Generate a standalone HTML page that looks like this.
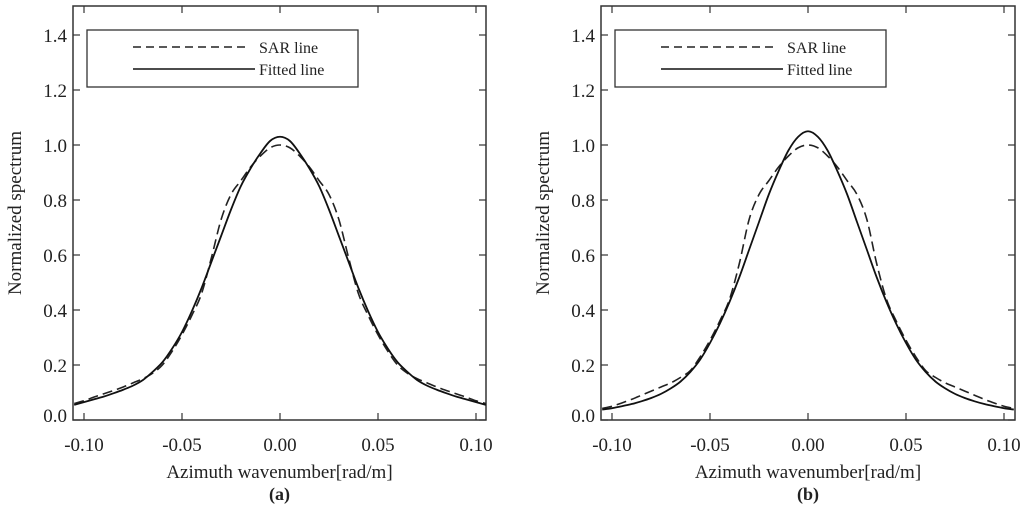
<!DOCTYPE html>
<html><head><meta charset="utf-8"><style>
body{margin:0;background:#fff;}
svg{display:block;font-family:"Liberation Serif",serif;}
</style></head><body>
<svg id="s" width="1024" height="516" viewBox="0 0 1024 516"></svg>
<script>
const xVals=[-0.105,-0.1,-0.095,-0.09,-0.085,-0.08,-0.075,-0.07,-0.065,-0.06,-0.055,-0.05,-0.045,-0.04,-0.035,-0.03,-0.025,-0.02,-0.015,-0.01,-0.005,0,0.005,0.01,0.015,0.02,0.025,0.03,0.035,0.04,0.045,0.05,0.055,0.06,0.065,0.07,0.075,0.08,0.085,0.09,0.095,0.1,0.105];
const fitA=[0.055,0.065,0.075,0.085,0.097,0.11,0.125,0.145,0.175,0.21,0.26,0.32,0.395,0.48,0.575,0.67,0.765,0.85,0.915,0.97,1.015,1.03,1.015,0.97,0.915,0.85,0.765,0.67,0.575,0.48,0.395,0.32,0.26,0.21,0.175,0.145,0.125,0.11,0.097,0.085,0.075,0.065,0.055];
const sarA=[0.06,0.07,0.083,0.095,0.107,0.12,0.135,0.15,0.17,0.2,0.25,0.31,0.38,0.46,0.59,0.73,0.82,0.87,0.92,0.96,0.99,1.0,0.99,0.96,0.92,0.87,0.82,0.73,0.59,0.46,0.38,0.31,0.25,0.2,0.17,0.15,0.135,0.12,0.107,0.095,0.083,0.07,0.06];
const fitB=[0.038,0.043,0.05,0.058,0.068,0.08,0.095,0.115,0.14,0.175,0.22,0.28,0.35,0.43,0.52,0.62,0.72,0.82,0.905,0.98,1.03,1.05,1.03,0.98,0.905,0.82,0.72,0.62,0.52,0.43,0.35,0.28,0.22,0.175,0.14,0.115,0.095,0.08,0.068,0.058,0.05,0.043,0.038];
const sarB=[0.042,0.05,0.062,0.075,0.09,0.105,0.12,0.135,0.155,0.18,0.23,0.29,0.36,0.44,0.57,0.73,0.82,0.87,0.92,0.96,0.99,1.0,0.99,0.96,0.92,0.87,0.82,0.73,0.57,0.44,0.36,0.29,0.23,0.18,0.155,0.135,0.12,0.105,0.09,0.075,0.062,0.05,0.042];
const xTicks=[-0.1,-0.05,0,0.05,0.1];
const xTickLabels=["-0.10","-0.05","0.00","0.05","0.10"];
const yTicks=[0,0.2,0.4,0.6,0.8,1.0,1.2,1.4];
const yTickLabels=["0.0","0.2","0.4","0.6","0.8","1.0","1.2","1.4"];
const NS="http://www.w3.org/2000/svg";
const svg=document.getElementById('s');
function mk(tag,attrs,parent,text){const e=document.createElementNS(NS,tag);for(const k in attrs)e.setAttribute(k,attrs[k]);if(text!==undefined)e.textContent=text;(parent||svg).appendChild(e);return e;}
function panel(id,left,right,x0,label,sar,fit){
  const top=6,bottom=420,py=275,px=1960;
  const sx=v=>x0+v*px, sy=v=>bottom-v*py;
  const g=mk('g',{});
  
  
  const clipId='c'+id;
  const cp=mk('clipPath',{id:clipId},g);mk('rect',{x:left,y:top,width:right-left,height:bottom-top},cp);
  const fr=mk('rect',{x:left,y:top,width:right-left,height:bottom-top,fill:'none',stroke:'#333','stroke-width':1.5},g);
  
  
  xTicks.forEach((t,i)=>{
    const x=sx(t);
    mk('line',{x1:x,y1:bottom,x2:x,y2:bottom-7,stroke:'#333','stroke-width':1.2},g);
    mk('line',{x1:x,y1:top,x2:x,y2:top+7,stroke:'#333','stroke-width':1.2},g);
    const tl=mk('text',{x:x,y:bottom+31,'text-anchor':'middle','font-size':19,fill:'#222'},g,xTickLabels[i]);
    
    
  });
  yTicks.forEach((t,i)=>{
    const y=sy(t);
    mk('line',{x1:left,y1:y,x2:left+7,y2:y,stroke:'#333','stroke-width':1.2},g);
    mk('line',{x1:right,y1:y,x2:right-7,y2:y,stroke:'#333','stroke-width':1.2},g);
    const tl=mk('text',{x:left-6,y:y+(t===0?2:7),'text-anchor':'end','font-size':19,fill:'#222'},g,yTickLabels[i]);
    
    
  });
  function path(vals){
    const p=xVals.map((v,i)=>[sx(v),sy(vals[i])]);
    let d='M'+p[0][0]+','+p[0][1];
    for(let i=0;i<p.length-1;i++){
      const a=p[Math.max(0,i-1)],b=p[i],c=p[i+1],e=p[Math.min(p.length-1,i+2)];
      d+=' C'+(b[0]+(c[0]-a[0])/6)+','+(b[1]+(c[1]-a[1])/6)+' '+(c[0]-(e[0]-b[0])/6)+','+(c[1]-(e[1]-b[1])/6)+' '+c[0]+','+c[1];
    }
    return d;
  }
  const s=mk('path',{d:path(sar),fill:'none',stroke:'#222','stroke-width':1.6,'stroke-dasharray':'10,5','clip-path':'url(#'+clipId+')'},g);
  
  
  const f=mk('path',{d:path(fit),fill:'none',stroke:'#111','stroke-width':1.8,'clip-path':'url(#'+clipId+')'},g);
  
  
  const lg=mk('g',{},g);
  
  
  const lx=left+14;
  mk('rect',{x:lx,y:30,width:271,height:57,fill:'#fff',stroke:'#333','stroke-width':1.3},lg);
  mk('line',{x1:lx+46,y1:47,x2:lx+163,y2:47,stroke:'#222','stroke-width':1.5,'stroke-dasharray':'8,5'},lg);
  mk('line',{x1:lx+46,y1:69,x2:lx+168,y2:69,stroke:'#111','stroke-width':1.6},lg);
  mk('text',{x:lx+172,y:53,'font-size':16,fill:'#222'},lg,'SAR line');
  mk('text',{x:lx+172,y:75,'font-size':16,fill:'#222'},lg,'Fitted line');
  const cx=(left+right)/2;
  const xt=mk('text',{x:cx,y:478,'text-anchor':'middle','font-size':19,fill:'#222'},g,'Azimuth wavenumber[rad/m]');
  
  
  const yt=mk('text',{x:0,y:0,'text-anchor':'middle','font-size':19,fill:'#222',transform:'translate('+(left-52)+',213) rotate(-90)'},g,'Normalized spectrum');
  
  
  const pl=mk('text',{x:cx,y:500,'text-anchor':'middle','font-size':18,'font-weight':'bold',fill:'#222'},g,label);
  
  
}
panel('a',73,486,280,'(a)',sarA,fitA);
panel('b',601,1015,808,'(b)',sarB,fitB);
</script>
</body></html>
